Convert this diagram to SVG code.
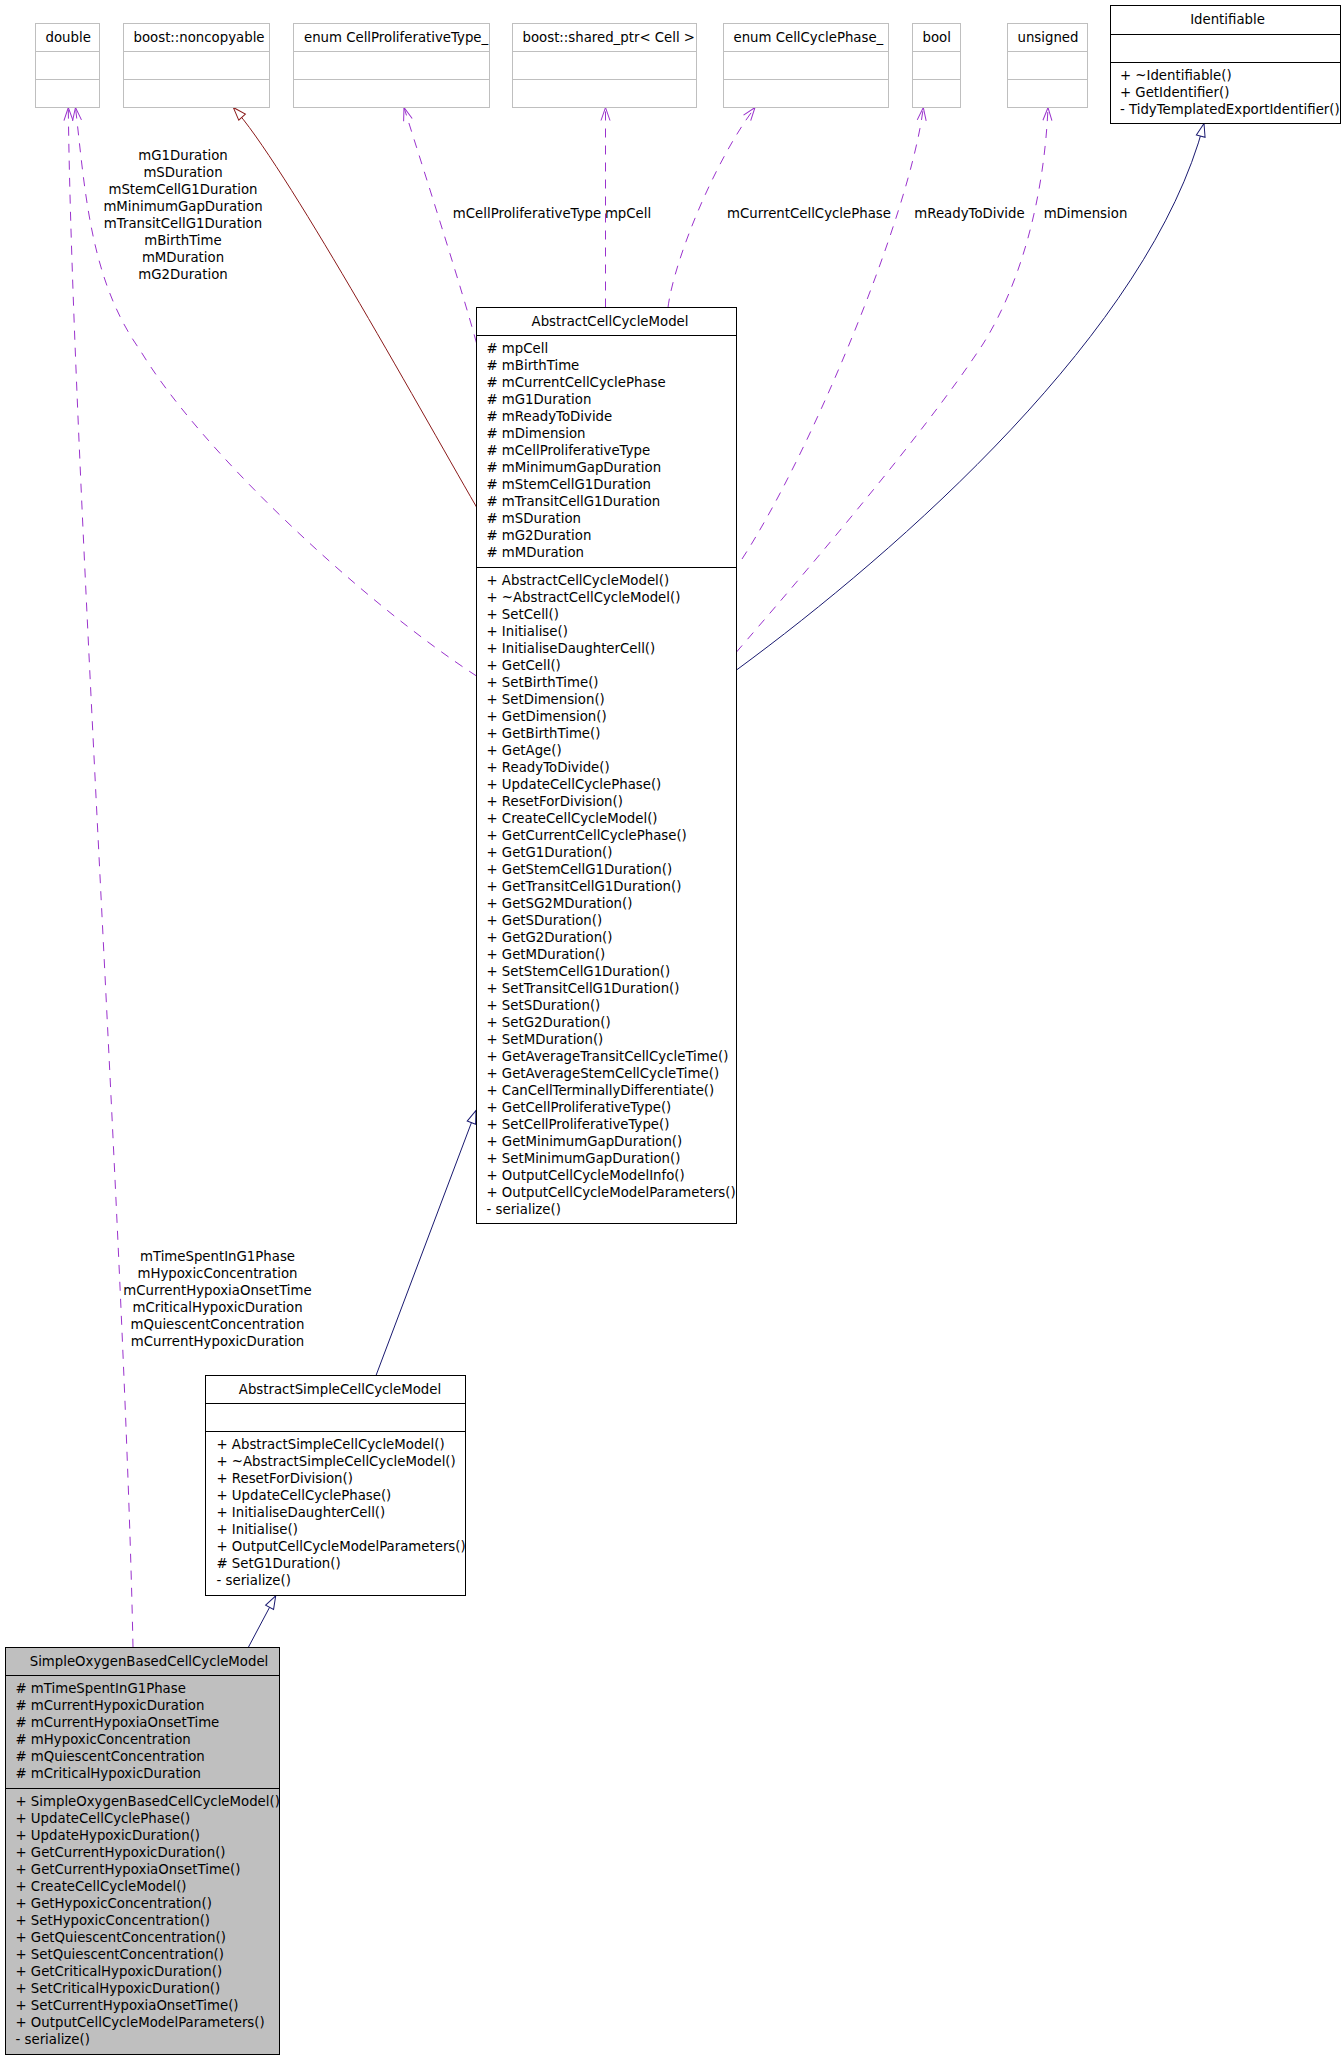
<svg xmlns="http://www.w3.org/2000/svg" width="1343" height="2059" viewBox="0 0 1343 2059">
<style>
text { font-family: "DejaVu Sans", "Liberation Sans", sans-serif; font-size: 13.3px; fill: #000; }
.mid { text-anchor: middle; }
.n rect { fill: #fff; stroke: #000; stroke-width: 1; }
.n path { fill: none; stroke: #000; stroke-width: 1; }
.x rect { stroke: #bfbfbf; }
.x path { stroke: #bfbfbf; }
.leaf rect { fill: #bfbfbf; }
.use { fill: none; stroke: #9a32cd; stroke-width: 1; stroke-dasharray: 9,8; }
.inh { fill: none; stroke: #191970; stroke-width: 1; }
.priv { fill: none; stroke: #8b1a1a; stroke-width: 1; }
</style>
<defs>
<marker id="triBlue" markerUnits="userSpaceOnUse" markerWidth="16" markerHeight="12" refX="13" refY="5" orient="auto" overflow="visible">
<path d="M0,0.5L13,5L0,9.5Z" fill="#fff" stroke="#191970" stroke-width="1"/>
</marker>
<marker id="triRed" markerUnits="userSpaceOnUse" markerWidth="16" markerHeight="12" refX="13" refY="5" orient="auto" overflow="visible">
<path d="M0,0.5L13,5L0,9.5Z" fill="#fff" stroke="#8b1a1a" stroke-width="1"/>
</marker>
<marker id="vee" markerUnits="userSpaceOnUse" markerWidth="16" markerHeight="12" refX="13" refY="5" orient="auto" overflow="visible">
<path d="M0,0.5L13,5L0,9.5" fill="none" stroke="#9a32cd" stroke-width="1"/>
</marker>
</defs>
<rect x="0" y="0" width="1343" height="2059" fill="#fff"/>

<g id="connectors">
<path class="inh" d="M248.5,1647 L275.7,1595.8" marker-end="url(#triBlue)"/>
<path class="inh" d="M376,1375.5 L476,1110.5" marker-end="url(#triBlue)"/>
<path class="inh" d="M736.5,670 C900,550 1150,330 1204,123.5" marker-end="url(#triBlue)"/>
<path class="priv" d="M476.5,507 C416,402 283,162 233.3,107.5" marker-end="url(#triRed)"/>
<path class="use" d="M476.5,676 C360,600 200,450 140,350 C90,280 85,190 75.5,107.5" marker-end="url(#vee)"/>
<path class="use" d="M133,1647.5 C125,1250 72,450 68.3,107.5" marker-end="url(#vee)"/>
<path class="use" d="M476.5,343 C462,290 430,190 404,107.5" marker-end="url(#vee)"/>
<path class="use" d="M605.5,307.5 L605.5,107.5" marker-end="url(#vee)"/>
<path class="use" d="M668,307.5 C674,260 715,160 755,107.5" marker-end="url(#vee)"/>
<path class="use" d="M742,559 C810,455 910,215 923.3,107.5" marker-end="url(#vee)"/>
<path class="use" d="M736.5,652 C790,590 920,440 983,344 C1020,285 1044,200 1048,107.5" marker-end="url(#vee)"/>
<text class="mid" x="183" y="159.5">mG1Duration</text>
<text class="mid" x="183" y="176.5">mSDuration</text>
<text class="mid" x="183" y="193.5">mStemCellG1Duration</text>
<text class="mid" x="183" y="210.5">mMinimumGapDuration</text>
<text class="mid" x="183" y="227.5">mTransitCellG1Duration</text>
<text class="mid" x="183" y="244.5">mBirthTime</text>
<text class="mid" x="183" y="261.5">mMDuration</text>
<text class="mid" x="183" y="278.5">mG2Duration</text>
<text class="mid" x="527" y="218">mCellProliferativeType</text>
<text class="mid" x="628" y="218">mpCell</text>
<text class="mid" x="809" y="218">mCurrentCellCyclePhase</text>
<text class="mid" x="969.5" y="218">mReadyToDivide</text>
<text class="mid" x="1085.5" y="218">mDimension</text>
<text class="mid" x="217.5" y="1260.5">mTimeSpentInG1Phase</text>
<text class="mid" x="217.5" y="1277.5">mHypoxicConcentration</text>
<text class="mid" x="217.5" y="1294.5">mCurrentHypoxiaOnsetTime</text>
<text class="mid" x="217.5" y="1311.5">mCriticalHypoxicDuration</text>
<text class="mid" x="217.5" y="1328.5">mQuiescentConcentration</text>
<text class="mid" x="217.5" y="1345.5">mCurrentHypoxicDuration</text>
</g>

<g id="node-double" class="n x">
<rect x="35.5" y="23.5" width="64" height="84"/>
<path d="M35.5,51.5H99.5M35.5,79.5H99.5"/>
<text x="45.5" y="41.5">double</text>
</g>
<g id="node-noncopyable" class="n x">
<rect x="123.5" y="23.5" width="146" height="84"/>
<path d="M123.5,51.5H269.5M123.5,79.5H269.5"/>
<text x="133.5" y="41.5">boost::noncopyable</text>
</g>
<g id="node-CellProliferativeType" class="n x">
<rect x="293.5" y="23.5" width="196" height="84"/>
<path d="M293.5,51.5H489.5M293.5,79.5H489.5"/>
<text x="304" y="41.5">enum CellProliferativeType_</text>
</g>
<g id="node-shared_ptr" class="n x">
<rect x="512.5" y="23.5" width="184" height="84"/>
<path d="M512.5,51.5H696.5M512.5,79.5H696.5"/>
<text x="522.5" y="41.5">boost::shared_ptr&lt; Cell &gt;</text>
</g>
<g id="node-CellCyclePhase" class="n x">
<rect x="723.5" y="23.5" width="165" height="84"/>
<path d="M723.5,51.5H888.5M723.5,79.5H888.5"/>
<text x="733.5" y="41.5">enum CellCyclePhase_</text>
</g>
<g id="node-bool" class="n x">
<rect x="912.5" y="23.5" width="48" height="84"/>
<path d="M912.5,51.5H960.5M912.5,79.5H960.5"/>
<text x="922.5" y="41.5">bool</text>
</g>
<g id="node-unsigned" class="n x">
<rect x="1007.5" y="23.5" width="80" height="84"/>
<path d="M1007.5,51.5H1087.5M1007.5,79.5H1087.5"/>
<text x="1017.5" y="41.5">unsigned</text>
</g>
<g id="node-Identifiable" class="n">
<rect x="1110.5" y="5.5" width="230" height="118"/>
<path d="M1110.5,34.5H1340.5M1110.5,62.5H1340.5"/>
<text class="mid" x="1227.5" y="23.5">Identifiable</text>
<text x="1120" y="80">+ ~Identifiable()</text>
<text x="1120" y="97">+ GetIdentifier()</text>
<text x="1120" y="114">- TidyTemplatedExportIdentifier()</text>
</g>

<g id="node-AbstractCellCycleModel" class="n">
<rect x="476.5" y="307.5" width="260" height="916"/>
<path d="M476.5,335.5H736.5M476.5,567.5H736.5"/>
<text class="mid" x="610" y="325.5">AbstractCellCycleModel</text>
<text x="486.5" y="353"># mpCell<tspan x="486.5" dy="17"># mBirthTime</tspan><tspan x="486.5" dy="17"># mCurrentCellCyclePhase</tspan><tspan x="486.5" dy="17"># mG1Duration</tspan><tspan x="486.5" dy="17"># mReadyToDivide</tspan><tspan x="486.5" dy="17"># mDimension</tspan><tspan x="486.5" dy="17"># mCellProliferativeType</tspan><tspan x="486.5" dy="17"># mMinimumGapDuration</tspan><tspan x="486.5" dy="17"># mStemCellG1Duration</tspan><tspan x="486.5" dy="17"># mTransitCellG1Duration</tspan><tspan x="486.5" dy="17"># mSDuration</tspan><tspan x="486.5" dy="17"># mG2Duration</tspan><tspan x="486.5" dy="17"># mMDuration</tspan></text>
<text x="486.5" y="585">+ AbstractCellCycleModel()<tspan x="486.5" dy="17">+ ~AbstractCellCycleModel()</tspan><tspan x="486.5" dy="17">+ SetCell()</tspan><tspan x="486.5" dy="17">+ Initialise()</tspan><tspan x="486.5" dy="17">+ InitialiseDaughterCell()</tspan><tspan x="486.5" dy="17">+ GetCell()</tspan><tspan x="486.5" dy="17">+ SetBirthTime()</tspan><tspan x="486.5" dy="17">+ SetDimension()</tspan><tspan x="486.5" dy="17">+ GetDimension()</tspan><tspan x="486.5" dy="17">+ GetBirthTime()</tspan><tspan x="486.5" dy="17">+ GetAge()</tspan><tspan x="486.5" dy="17">+ ReadyToDivide()</tspan><tspan x="486.5" dy="17">+ UpdateCellCyclePhase()</tspan><tspan x="486.5" dy="17">+ ResetForDivision()</tspan><tspan x="486.5" dy="17">+ CreateCellCycleModel()</tspan><tspan x="486.5" dy="17">+ GetCurrentCellCyclePhase()</tspan><tspan x="486.5" dy="17">+ GetG1Duration()</tspan><tspan x="486.5" dy="17">+ GetStemCellG1Duration()</tspan><tspan x="486.5" dy="17">+ GetTransitCellG1Duration()</tspan><tspan x="486.5" dy="17">+ GetSG2MDuration()</tspan><tspan x="486.5" dy="17">+ GetSDuration()</tspan><tspan x="486.5" dy="17">+ GetG2Duration()</tspan><tspan x="486.5" dy="17">+ GetMDuration()</tspan><tspan x="486.5" dy="17">+ SetStemCellG1Duration()</tspan><tspan x="486.5" dy="17">+ SetTransitCellG1Duration()</tspan><tspan x="486.5" dy="17">+ SetSDuration()</tspan><tspan x="486.5" dy="17">+ SetG2Duration()</tspan><tspan x="486.5" dy="17">+ SetMDuration()</tspan><tspan x="486.5" dy="17">+ GetAverageTransitCellCycleTime()</tspan><tspan x="486.5" dy="17">+ GetAverageStemCellCycleTime()</tspan><tspan x="486.5" dy="17">+ CanCellTerminallyDifferentiate()</tspan><tspan x="486.5" dy="17">+ GetCellProliferativeType()</tspan><tspan x="486.5" dy="17">+ SetCellProliferativeType()</tspan><tspan x="486.5" dy="17">+ GetMinimumGapDuration()</tspan><tspan x="486.5" dy="17">+ SetMinimumGapDuration()</tspan><tspan x="486.5" dy="17">+ OutputCellCycleModelInfo()</tspan><tspan x="486.5" dy="17">+ OutputCellCycleModelParameters()</tspan><tspan x="486.5" dy="17">- serialize()</tspan></text>
</g>

<g id="node-AbstractSimpleCellCycleModel" class="n">
<rect x="205.5" y="1375.5" width="260" height="220"/>
<path d="M205.5,1403.5H465.5M205.5,1431.5H465.5"/>
<text class="mid" x="340" y="1393.5">AbstractSimpleCellCycleModel</text>
<text x="216.5" y="1449">+ AbstractSimpleCellCycleModel()<tspan x="216.5" dy="17">+ ~AbstractSimpleCellCycleModel()</tspan><tspan x="216.5" dy="17">+ ResetForDivision()</tspan><tspan x="216.5" dy="17">+ UpdateCellCyclePhase()</tspan><tspan x="216.5" dy="17">+ InitialiseDaughterCell()</tspan><tspan x="216.5" dy="17">+ Initialise()</tspan><tspan x="216.5" dy="17">+ OutputCellCycleModelParameters()</tspan><tspan x="216.5" dy="17"># SetG1Duration()</tspan><tspan x="216.5" dy="17">- serialize()</tspan></text>
</g>

<g id="node-SimpleOxygenBasedCellCycleModel" class="n leaf">
<rect x="5.5" y="1647.5" width="274" height="407"/>
<path d="M5.5,1675.5H279.5M5.5,1788.5H279.5"/>
<text class="mid" x="149" y="1665.5">SimpleOxygenBasedCellCycleModel</text>
<text x="15.5" y="1693"># mTimeSpentInG1Phase<tspan x="15.5" dy="17"># mCurrentHypoxicDuration</tspan><tspan x="15.5" dy="17"># mCurrentHypoxiaOnsetTime</tspan><tspan x="15.5" dy="17"># mHypoxicConcentration</tspan><tspan x="15.5" dy="17"># mQuiescentConcentration</tspan><tspan x="15.5" dy="17"># mCriticalHypoxicDuration</tspan></text>
<text x="15.5" y="1806">+ SimpleOxygenBasedCellCycleModel()<tspan x="15.5" dy="17">+ UpdateCellCyclePhase()</tspan><tspan x="15.5" dy="17">+ UpdateHypoxicDuration()</tspan><tspan x="15.5" dy="17">+ GetCurrentHypoxicDuration()</tspan><tspan x="15.5" dy="17">+ GetCurrentHypoxiaOnsetTime()</tspan><tspan x="15.5" dy="17">+ CreateCellCycleModel()</tspan><tspan x="15.5" dy="17">+ GetHypoxicConcentration()</tspan><tspan x="15.5" dy="17">+ SetHypoxicConcentration()</tspan><tspan x="15.5" dy="17">+ GetQuiescentConcentration()</tspan><tspan x="15.5" dy="17">+ SetQuiescentConcentration()</tspan><tspan x="15.5" dy="17">+ GetCriticalHypoxicDuration()</tspan><tspan x="15.5" dy="17">+ SetCriticalHypoxicDuration()</tspan><tspan x="15.5" dy="17">+ SetCurrentHypoxiaOnsetTime()</tspan><tspan x="15.5" dy="17">+ OutputCellCycleModelParameters()</tspan><tspan x="15.5" dy="17">- serialize()</tspan></text>
</g>
</svg>
